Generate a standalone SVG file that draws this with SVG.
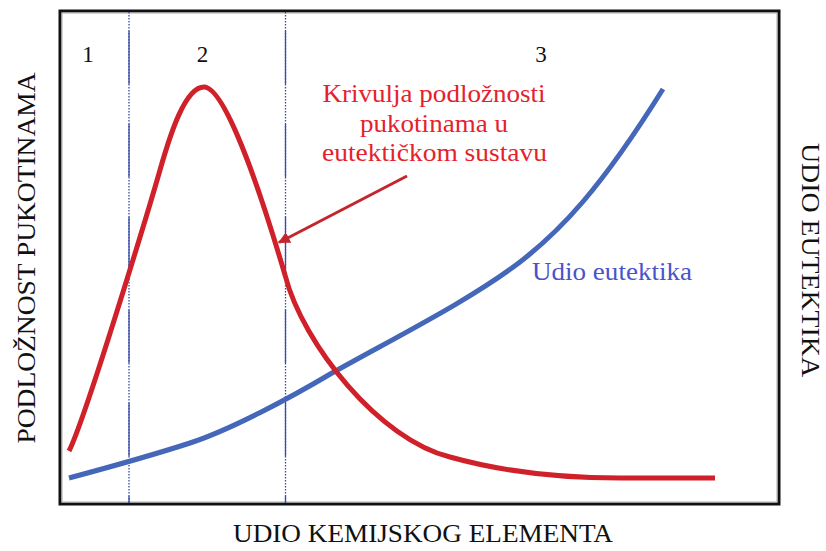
<svg xmlns="http://www.w3.org/2000/svg" width="826" height="551" viewBox="0 0 826 551">
  <style>
    .t { font-family: "Liberation Serif", "Times New Roman", serif; }
    .dark { fill: #111; }
    .red { fill: #e5222b; }
    .blue { fill: #4a52cc; }
    .curve { fill: none; stroke-width: 5; stroke-linecap: butt; stroke-linejoin: round; }
    .vdot { stroke: #3b4aa5; stroke-width: 1.3; stroke-dasharray: 1.5 1.5; }
    .vsol { stroke: #3b4aa5; stroke-width: 1.3; stroke-dasharray: 53 40; stroke-dashoffset: 74; }
  </style>
  <defs>
    <marker id="ah" viewBox="0 0 10 10" refX="9" refY="5" markerWidth="4" markerHeight="4" orient="auto" markerUnits="strokeWidth">
      <path d="M0,0 L10,5 L0,10 Z" fill="#c4262d"/>
    </marker>
  </defs>
  <rect width="826" height="551" fill="#fff"/>

  <g id="frame">
    <rect x="60" y="11" width="719" height="493" fill="#fff" stroke="#111" stroke-width="3"/>
    <rect x="62" y="13" width="715" height="489" fill="none" stroke="#aaa" stroke-width="1"/>
  </g>

  <g id="region-dividers">
    <line class="vdot" x1="129" y1="12" x2="129" y2="503"/>
    <line class="vsol" x1="129" y1="12" x2="129" y2="503"/>
    <line class="vdot" x1="285.5" y1="12" x2="285.5" y2="503"/>
    <line class="vsol" x1="285.5" y1="12" x2="285.5" y2="503"/>
  </g>

  <g id="region-labels" class="t dark" font-size="23" text-anchor="middle">
    <text x="88" y="62">1</text>
    <text x="202.5" y="62">2</text>
    <text x="541" y="62">3</text>
  </g>

  <g id="eutectic-curve">
    <path class="curve" stroke="#4467b9" d="M69,478 C110,467 150,456 190,443 C230,430 290,398 332,373 C400,335 470,300 520,262 C560,231 600,190 663,89"/>
  </g>

  <g id="crack-curve">
    <path class="curve" stroke="#d0212b" d="M69,451 C85,420 150,205 160,170 C170,135 185,87 204,87 C225,87 260,190 285,275 C303,345 380,440 450,457 C500,471 560,478 620,478 C660,478 690,478 715,478"/>
  </g>

  <g id="crack-label" class="t red" font-size="26" text-anchor="middle">
    <text x="434" y="102" textLength="223" lengthAdjust="spacingAndGlyphs">Krivulja podložnosti</text>
    <text x="434" y="132" textLength="148" lengthAdjust="spacingAndGlyphs">pukotinama u</text>
    <text x="434.5" y="161" textLength="225" lengthAdjust="spacingAndGlyphs">eutektičkom sustavu</text>
  </g>

  <g id="eutectic-label" class="t blue" font-size="26">
    <text x="532" y="280" textLength="160" lengthAdjust="spacingAndGlyphs">Udio eutektika</text>
  </g>

  <g id="connectors">
    <line x1="407" y1="176" x2="279" y2="242.5" stroke="#c4262d" stroke-width="3" marker-end="url(#ah)"/>
  </g>

  <g id="axis-labels" class="t dark" font-size="26" text-anchor="middle">
    <text transform="translate(35,258) rotate(-90)" textLength="371" lengthAdjust="spacingAndGlyphs">PODLOŽNOST PUKOTINAMA</text>
    <text transform="translate(802,260) rotate(90)" font-size="25" textLength="234" lengthAdjust="spacingAndGlyphs">UDIO EUTEKTIKA</text>
    <text x="423" y="542" textLength="380" lengthAdjust="spacingAndGlyphs">UDIO KEMIJSKOG ELEMENTA</text>
  </g>
</svg>
